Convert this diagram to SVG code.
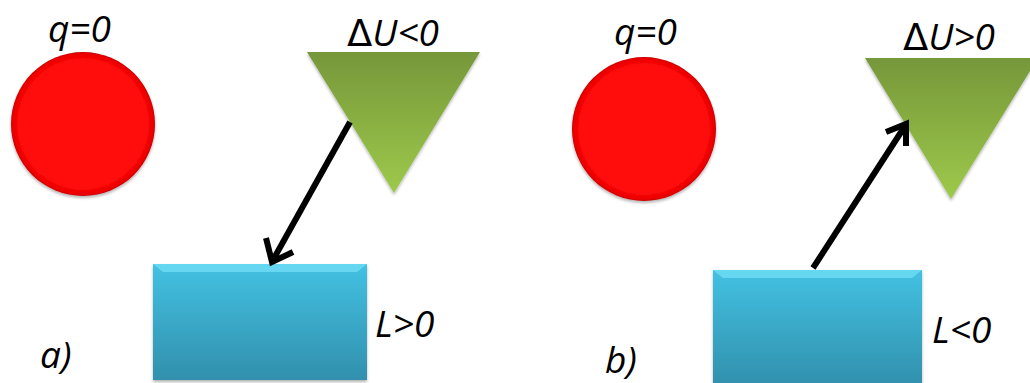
<svg xmlns="http://www.w3.org/2000/svg" width="1030" height="383" viewBox="0 0 1030 383">
<style>
.lbl{font-family:"Open Sans","Liberation Sans",sans-serif;font-style:italic;font-size:37px;fill:#000}
.d{font-style:normal;font-family:"DejaVu Sans",sans-serif;font-weight:normal}
.arr{stroke:#000;stroke-width:6;fill:none}
</style>
<defs>
<radialGradient id="gRed" cx="0.5" cy="0.5" r="0.5">
<stop offset="0.88" stop-color="#ff0a0a"/>
<stop offset="0.98" stop-color="#e80000"/>
<stop offset="1" stop-color="#c00000"/>
</radialGradient>
<linearGradient id="gGreen" x1="0" y1="0" x2="0" y2="1">
<stop offset="0" stop-color="#76973a"/>
<stop offset="1" stop-color="#9dc94b"/>
</linearGradient>
<linearGradient id="gBlue" x1="0" y1="0" x2="0" y2="1">
<stop offset="0" stop-color="#43c1e2"/>
<stop offset="1" stop-color="#3190ad"/>
</linearGradient>
<filter id="sh" x="-10%" y="-10%" width="120%" height="130%">
<feDropShadow dx="0" dy="2" stdDeviation="1.5" flood-color="#000" flood-opacity="0.3"/>
</filter>
</defs>

<g id="circle-a"><circle cx="83" cy="124" r="72" fill="url(#gRed)" filter="url(#sh)"/></g>
<g id="label-qa"><text class="lbl" x="48" y="42">q=0</text></g>
<g id="triangle-a"><polygon points="307,52 480,52 394,193" fill="url(#gGreen)" filter="url(#sh)"/></g>
<g id="label-Ua"><text class="lbl" x="347" y="46"><tspan class="d">Δ</tspan>U&lt;0</text></g>
<g id="rect-a"><rect x="153" y="264" width="214" height="116" fill="url(#gBlue)" filter="url(#sh)"/>
<path d="M153,264 L367,264 L357,272 L163,272 Z" fill="#6fdcf5" opacity="0.8"/></g>
<g id="label-La"><text class="lbl" x="375" y="337">L&gt;0</text></g>
<g id="label-a"><text class="lbl" x="40" y="368">a)</text></g>

<g id="circle-b"><circle cx="644" cy="129" r="72" fill="url(#gRed)" filter="url(#sh)"/></g>
<g id="label-qb"><text class="lbl" x="614" y="45">q=0</text></g>
<g id="triangle-b"><polygon points="865,58 1038,58 951,199" fill="url(#gGreen)" filter="url(#sh)"/></g>
<g id="label-Ub"><text class="lbl" x="903" y="50"><tspan class="d">Δ</tspan>U&gt;0</text></g>
<g id="rect-b"><rect x="713" y="270" width="209" height="116" fill="url(#gBlue)" filter="url(#sh)"/>
<path d="M713,270 L922,270 L912,278 L723,278 Z" fill="#6fdcf5" opacity="0.8"/></g>
<g id="label-Lb"><text class="lbl" x="932" y="343">L&lt;0</text></g>
<g id="label-b"><text class="lbl" x="605" y="373">b)</text></g>

<g id="connectors">
<line class="arr" x1="350" y1="122" x2="273" y2="260"/>
<path class="arr" d="M266,238 L272,262 L293,252"/>
<line class="arr" x1="813" y1="268" x2="905" y2="126"/>
<path class="arr" d="M886,132 L906,124 L906,146"/>
</g>
</svg>
